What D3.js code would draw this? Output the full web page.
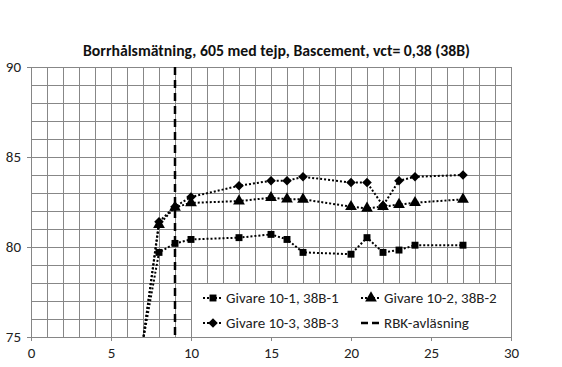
<!DOCTYPE html>
<html>
<head>
<meta charset="utf-8">
<script src="https://cdn.jsdelivr.net/npm/d3@7"></script>
<style>
  body { margin: 0; background: #fff; }
  text { font-family: Carlito, "Open Sans", "Liberation Sans", sans-serif; }
</style>
</head>
<body>
<div id="chart"></div>
<script>
// data
var xs = [7, 8, 9, 10, 13, 15, 16, 17, 20, 21, 22, 23, 24, 27];
var givare1 = [74.8, 79.7, 80.2, 80.42, 80.52, 80.7, 80.42, 79.7, 79.6, 80.52, 79.7, 79.83, 80.1, 80.1];
var givare2 = [74.8, 81.25, 82.2, 82.45, 82.55, 82.74, 82.66, 82.65, 82.24, 82.15, 82.24, 82.36, 82.46, 82.65];
var givare3 = [74.8, 81.4, 82.24, 82.78, 83.4, 83.68, 83.68, 83.9, 83.58, 83.58, 82.3, 83.68, 83.9, 84.0];
var rbkX = 9;
var seriesNames = ["Givare 10-1, 38B-1", "Givare 10-2, 38B-2", "Givare 10-3, 38B-3", "RBK-avläsning"];
var xTicks = [0, 5, 10, 15, 20, 25, 30];
var yTicks = [75, 80, 85, 90];
var title = "Borrhålsmätning, 605 med tejp, Bascement, vct= 0,38 (38B)";

var width = 562, height = 367;
var margin = {left: 31, right: 51, top: 67, bottom: 30};

var svg = d3.select("#chart").append("svg").attr("width", width).attr("height", height);

var x = d3.scaleLinear().domain([0, 30]).range([margin.left, width - margin.right]);
var y = d3.scaleLinear().domain([75, 90]).range([height - margin.bottom, margin.top]);

svg.append("defs").append("clipPath").attr("id", "plotclip")
  .append("rect")
  .attr("x", x(0)).attr("y", y(90))
  .attr("width", x(30) - x(0)).attr("height", y(75) - y(90));

//grid, every unit both ways
var grid = svg.append("g");
grid.selectAll("line.v").data(d3.range(1, 31)).enter().append("line")
  .attr("x1", d => x(d)).attr("x2", d => x(d))
  .attr("y1", y(90)).attr("y2", y(75))
  .attr("stroke", "#878787").attr("stroke-width", 1).attr("shape-rendering", "crispEdges");
grid.selectAll("line.h").data(d3.range(76, 91)).enter().append("line")
  .attr("x1", x(0)).attr("x2", x(30))
  .attr("y1", d => y(d)).attr("y2", d => y(d))
  .attr("stroke", "#878787").attr("stroke-width", 1).attr("shape-rendering", "crispEdges");

//axes
var xAxis = svg.append("g").attr("transform", "translate(0," + y(75) + ")")
  .call(d3.axisBottom(x).tickValues(xTicks).tickSize(4).tickPadding(6).tickFormat(d3.format("d")));
var yAxis = svg.append("g").attr("transform", "translate(" + x(0) + ",0)")
  .call(d3.axisLeft(y).tickValues(yTicks).tickSize(4).tickPadding(6).tickFormat(d3.format("d")));
[xAxis, yAxis].forEach(function(a) {
  a.select(".domain").attr("stroke", "#868686").attr("shape-rendering", "crispEdges");
  a.selectAll(".tick line").attr("stroke", "#868686").attr("shape-rendering", "crispEdges");
  a.selectAll("text").attr("font-size", 15).attr("fill", "#222")
    .style("font-family", "Carlito, 'Open Sans', sans-serif");
});

//title, stretched to the width it has in the picture
svg.append("text").attr("x", 83).attr("y", 56).attr("text-anchor", "start")
  .attr("font-weight", "bold").attr("font-size", 15).attr("fill", "#111")
  .attr("textLength", 387).attr("lengthAdjust", "spacingAndGlyphs")
  .text(title);

//rbk line
svg.append("line")
  .attr("x1", x(rbkX)).attr("x2", x(rbkX)).attr("y1", y(90)).attr("y2", y(75))
  .attr("stroke", "#000").attr("stroke-width", 2.5).attr("stroke-dasharray", "8,5");

var allSeries = [givare1, givare2, givare3];
var shapes = [d3.symbolSquare, d3.symbolTriangle, d3.symbolSquare];
var sizes = [48, 60, 46];
var rot = [0, 0, 45]; // diamond = square turned 45 deg

var plot = svg.append("g").attr("clip-path", "url(#plotclip)");
var line = d3.line().x(d => x(d[0])).y(d => y(d[1]));

allSeries.forEach(function(vals, k) {
  var pts = xs.map((d, i) => [d, vals[i]]);
  plot.append("path").datum(pts)
    .attr("d", line).attr("fill", "none")
    .attr("stroke", "#000").attr("stroke-width", 2).attr("stroke-dasharray", "2,2");
  plot.selectAll("path.m" + k).data(pts.filter(p => p[1] >= 75)).enter().append("path")
    .attr("class", "m" + k)
    .attr("d", d3.symbol().type(shapes[k]).size(sizes[k]))
    .attr("transform", d => "translate(" + x(d[0]) + "," + y(d[1]) + ") rotate(" + rot[k] + ")")
    .attr("fill", "#000");
});

//legend box over the grid
var lg = svg.append("g");
lg.append("rect")
  .attr("x", x(10)).attr("y", y(78))
  .attr("width", x(30) - x(10)).attr("height", y(75) - y(78))
  .attr("fill", "#fff").attr("stroke", "#878787").attr("shape-rendering", "crispEdges");

var legendItems = [
  {name: seriesNames[0], col: 0, row: 0, k: 0},
  {name: seriesNames[1], col: 1, row: 0, k: 1},
  {name: seriesNames[2], col: 0, row: 1, k: 2},
  {name: seriesNames[3], col: 1, row: 1, k: 3}
];
legendItems.forEach(function(it) {
  var lx = x(10) + 12 + it.col * 158, ly = y(78) + 15 + it.row * 25;
  var g = lg.append("g").attr("transform", "translate(" + lx + "," + ly + ")");
  if (it.k < 3) {
    g.append("line").attr("x1", 0).attr("x2", 19).attr("y1", 0).attr("y2", 0)
      .attr("stroke", "#000").attr("stroke-width", 2).attr("stroke-dasharray", "2,2");
    g.append("path").attr("d", d3.symbol().type(shapes[it.k]).size(sizes[it.k]))
      .attr("transform", "translate(10,0) rotate(" + rot[it.k] + ")").attr("fill", "#000");
  } else {
    g.append("line").attr("x1", 0).attr("x2", 19).attr("y1", 0).attr("y2", 0)
      .attr("stroke", "#000").attr("stroke-width", 2.5).attr("stroke-dasharray", "7,4");
  }
  g.append("text").attr("x", 23).attr("y", 5).attr("font-size", 15).attr("fill", "#222").text(it.name);
});

//re-draw axis line on top of legend
svg.append("line").attr("x1", x(0)).attr("x2", x(30)).attr("y1", y(75)).attr("y2", y(75))
  .attr("stroke", "#868686").attr("shape-rendering", "crispEdges");
</script>
</body>
</html>
